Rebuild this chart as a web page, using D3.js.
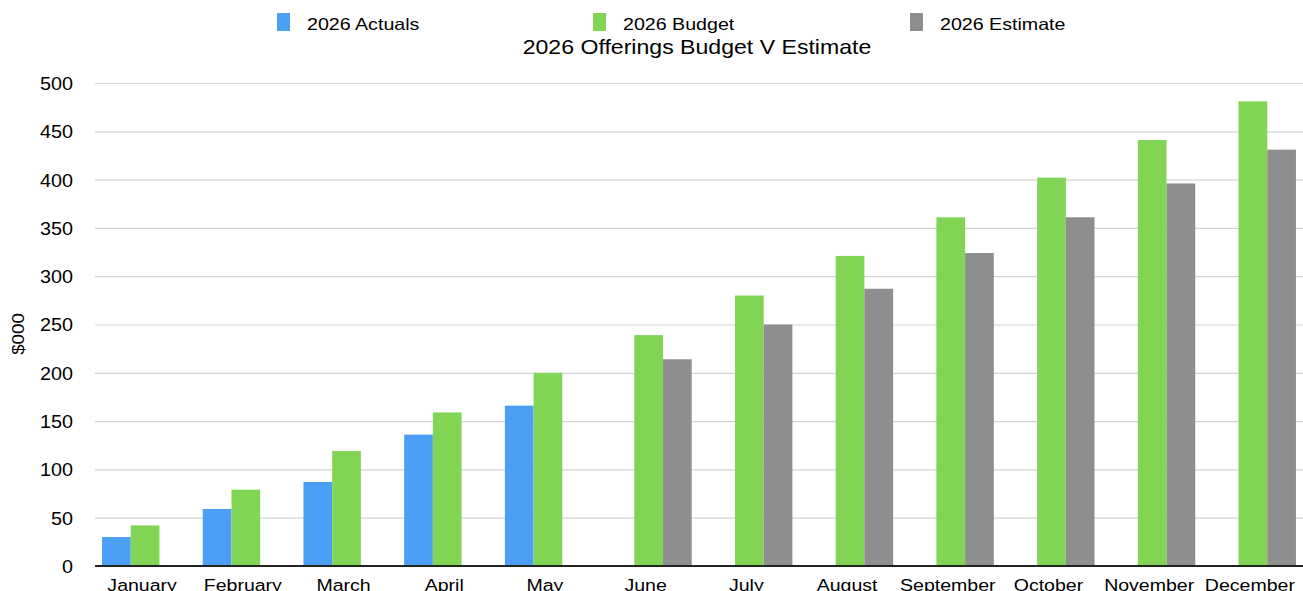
<!DOCTYPE html>
<html><head><meta charset="utf-8">
<script src="https://cdn.jsdelivr.net/npm/d3@7"></script>
<style>body{margin:0;background:#fff}svg{display:block}text{font-family:"Liberation Sans",Arial,Helvetica,sans-serif;fill:#000}</style>
</head><body>
<script>
const months = ["January","February","March","April","May","June","July","August","September","October","November","December"];
const actuals = [30, 59, 87, 136, 166, null, null, null, null, null, null, null];
const budget = [42, 79, 119, 159, 200, 239, 280, 321, 361, 402, 441, 481];
const estimate = [null, null, null, null, null, 214, 250, 287, 324, 361, 396, 431];
const seriesNames = ["2026 Actuals","2026 Budget","2026 Estimate"];
const colors = ["#4A9FF5","#82D454","#8E8E8E"];
const yTicks = [0,50,100,150,200,250,300,350,400,450,500];

const W=1303,H=591;
const svg=d3.select("body").append("svg").attr("width",W).attr("height",H);
const x0=d3.scaleBand().domain(months).range([95,1303]).paddingInner(0.145).paddingOuter(0.07);
const x1=d3.scaleBand().domain(seriesNames).range([0,x0.bandwidth()]);
const y=d3.scaleLinear().domain([0,500]).range([566,83]);

// gridlines
svg.append("g").selectAll("line").data(yTicks.filter(d=>d>0)).join("line")
 .attr("x1",95).attr("x2",1303).attr("y1",d=>y(d)+0.5).attr("y2",d=>y(d)+0.5)
 .attr("stroke","#d4d4d4").attr("stroke-width",1.2);

// y axis labels
const yAxis=d3.axisLeft(y).tickValues(yTicks).tickSize(0).tickPadding(0);
const ga=svg.append("g").attr("transform","translate(73,0)").call(yAxis);
ga.select(".domain").remove();
ga.selectAll("text").attr("x",0).attr("font-size",18).attr("fill","#000").attr("dy","0.36em").attr("transform","scale(1.1,1)");

// bars
const data=[actuals,budget,estimate];
data.forEach((arr,si)=>{
  svg.append("g").selectAll("rect").data(months.map((m,i)=>({m,v:arr[i]})).filter(d=>d.v!=null)).join("rect")
   .attr("x",d=>x0(d.m)+x1(seriesNames[si]))
   .attr("width",x1.bandwidth())
   .attr("y",d=>y(d.v)).attr("height",d=>y(0)-y(d.v))
   .attr("fill",colors[si]);
});

// baseline
svg.append("line").attr("x1",95).attr("x2",1303).attr("y1",y(0)).attr("y2",y(0)).attr("stroke","#222").attr("stroke-width",2);

// x labels
const xAxis=d3.axisBottom(x0).tickSize(0).tickPadding(0);
const gx=svg.append("g").attr("transform","translate(0,578)").call(xAxis);
gx.select(".domain").remove();
gx.selectAll("text").attr("y",0).attr("font-size",17).attr("fill","#000").attr("dy","0.78em").attr("transform","translate(-3,0) scale(1.15,1)");

// y title
svg.append("text").attr("transform","translate(24,334) rotate(-90) scale(1.1,1)").attr("text-anchor","middle").attr("font-size",17).text("$000");

// title
svg.append("text").attr("transform","translate(697,54) scale(1.155,1)").attr("text-anchor","middle").attr("font-size",20).text("2026 Offerings Budget V Estimate");

// legend
const legX=[277,593,910];
seriesNames.forEach((n,i)=>{
  svg.append("rect").attr("x",legX[i]).attr("y",13).attr("width",13).attr("height",18).attr("fill",colors[i]);
  svg.append("text").attr("transform",`translate(${legX[i]+30},29.5) scale(1.19,1)`).attr("font-size",16.5).text(n);
});
</script>
</body></html>
